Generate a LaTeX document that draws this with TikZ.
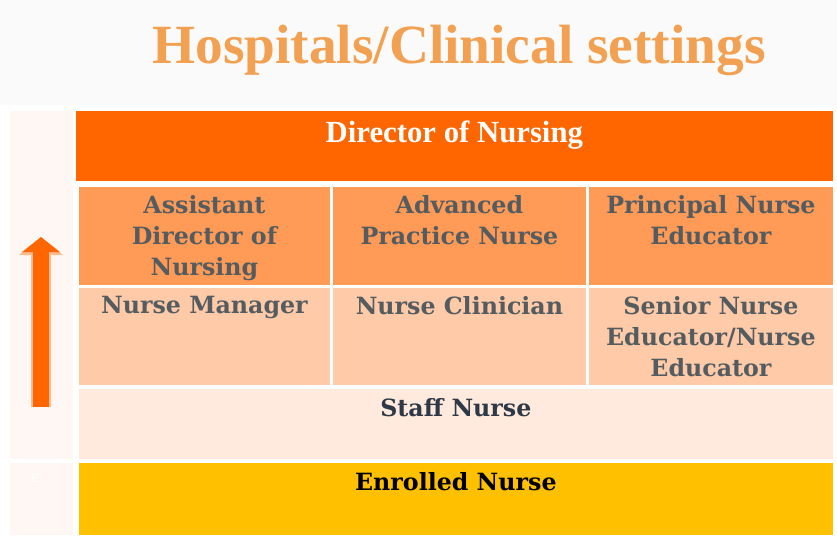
\documentclass[tikz,border=0pt]{standalone}
\usepackage{fontspec}
\setmainfont{DejaVu Serif}
\newfontfamily\titlefont{Liberation Serif}
\usetikzlibrary{arrows.meta,positioning}
\definecolor{hcTitle}{HTML}{F2A152}
\definecolor{hcDirector}{HTML}{FF6600}
\definecolor{hcRowTwo}{HTML}{FF9A57}
\definecolor{hcRowThree}{HTML}{FFCAA8}
\definecolor{hcStaff}{HTML}{FFEADD}
\definecolor{hcEnrolled}{HTML}{FFC000}
\definecolor{hcPanel}{HTML}{FFF7F3}
\definecolor{hcGrey}{HTML}{545C60}
\definecolor{hcSlate}{HTML}{2E3846}
\tikzset{
  cell/.style={draw=white, line width=0.5pt, anchor=north west, inner sep=0pt, fill=#1},
  celltext/.style={font=\fontsize{13.5}{17.6}\selectfont\bfseries, text=hcGrey, align=center, inner sep=0pt, anchor=north},
  rowtext/.style={font=\fontsize{13.5}{17.6}\selectfont\bfseries, align=center, inner sep=0pt, anchor=north},
}
\begin{document}
\begin{tikzpicture}[x=0.02cm, y=-0.02cm]
\useasboundingbox (0,0) rectangle (837,538);
\fill[white!98!black] (0,0) rectangle (837,105);
\fill[white] (0,105) rectangle (837,538);

% title
\node[font=\titlefont\fontsize{31.5}{34}\selectfont\bfseries, text=hcTitle, inner sep=0pt] (title) at (459,50) {Hospitals/Clinical settings};

% left panel with arrow
\node[cell=hcPanel, minimum width=1.28cm, minimum height=6.98cm] (panel) at (9,110) {};
\node[cell=hcPanel, minimum width=1.28cm, minimum height=1.46cm] (panelfoot) at (9,462) {};
\node[font=\sffamily\scriptsize, text=white] (letterE) at (35,478) {E};
\coordinate (arrtail) at (41,407);
\coordinate (arrtip) at (41,237);
\draw[hcDirector!45, line width=0.42cm, -{Triangle[width=0.86cm, length=0.36cm]}] (arrtail) -- (arrtip);
\draw[hcDirector, line width=0.32cm, -{Triangle[width=0.74cm, length=0.3cm]}] (arrtail) -- (arrtip);

% director
\node[cell=hcDirector, minimum width=15.16cm, minimum height=1.42cm] (dir) at (75,110) {};
\node[font=\titlefont\fontsize{17.5}{20}\selectfont\bfseries, text=white, inner sep=0pt, anchor=north] (dirtext) at ([yshift=-0.2cm]dir.north) {Director of Nursing};

% second row
\node[cell=hcRowTwo, minimum width=5.04cm, minimum height=1.98cm] (adn) at (78,186) {};
\node[cell=hcRowTwo, minimum width=5.08cm, minimum height=1.98cm] (apn) at (332,186) {};
\node[cell=hcRowTwo, minimum width=4.9cm, minimum height=1.98cm] (pne) at (588,186) {};
\node[celltext, below=0.18cm of adn.north] (adntext) {Assistant\\Director of\\Nursing};
\node[celltext, below=0.18cm of apn.north] (apntext) {Advanced\\Practice Nurse};
\node[celltext, below=0.18cm of pne.north] (pnetext) {Principal Nurse\\Educator};

% third row
\node[cell=hcRowThree, minimum width=5.04cm, minimum height=1.96cm] (nm) at (78,287) {};
\node[cell=hcRowThree, minimum width=5.08cm, minimum height=1.96cm] (nc) at (332,287) {};
\node[cell=hcRowThree, minimum width=4.9cm, minimum height=1.96cm] (sne) at (588,287) {};
\node[celltext, below=0.18cm of nm.north] (nmtext) {Nurse Manager};
\node[celltext, below=0.18cm of nc.north] (nctext) {Nurse Clinician};
\node[celltext, below=0.18cm of sne.north] (snetext) {Senior Nurse\\Educator/Nurse\\Educator};

% staff and enrolled
\node[cell=hcStaff, minimum width=15.1cm, minimum height=1.42cm] (staff) at (78,388) {};
\node[rowtext, text=hcSlate, below=0.2cm of staff.north] (stafftext) {Staff Nurse};
\node[cell=hcEnrolled, minimum width=15.1cm, minimum height=1.46cm] (enr) at (78,462) {};
\node[rowtext, text=black, below=0.2cm of enr.north] (enrtext) {Enrolled Nurse};
\end{tikzpicture}
\end{document}
